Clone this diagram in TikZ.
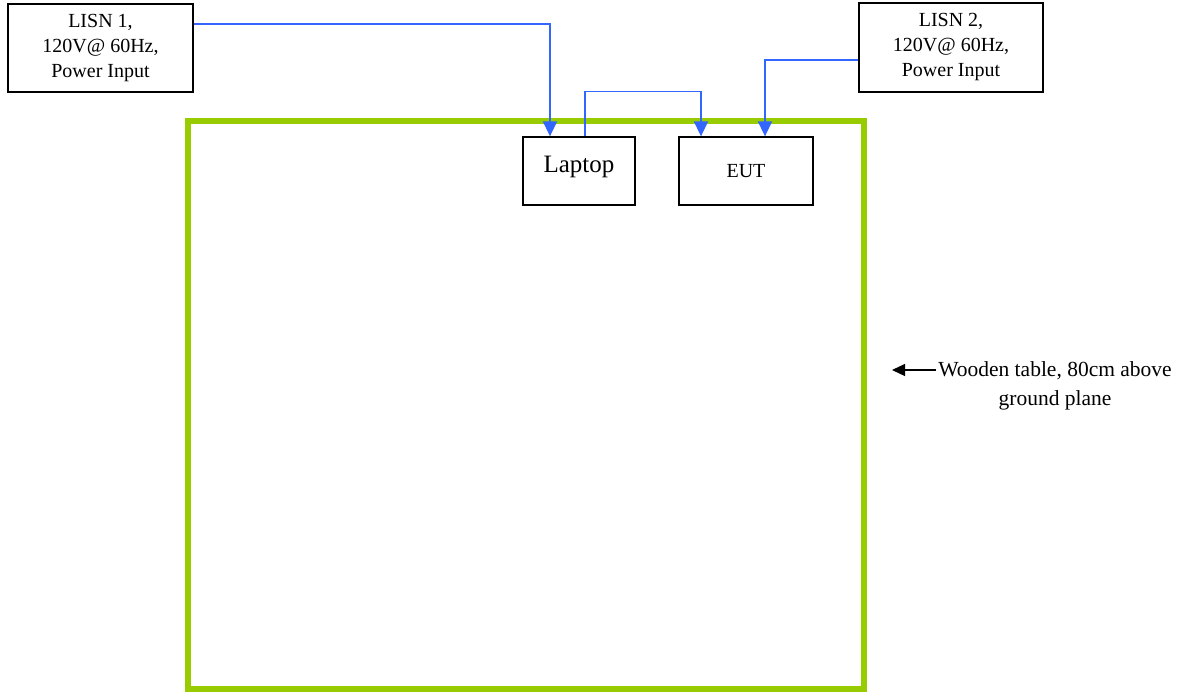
\documentclass[tikz,border=0pt]{standalone}
\usepackage{fontspec}
\setmainfont{Liberation Serif}
\usetikzlibrary{arrows.meta,positioning}
\definecolor{tablegreen}{RGB}{153,204,0}
\definecolor{cableblue}{RGB}{51,102,255}
\tikzset{
  base/.style={font=\fontsize{20}{25}\selectfont, align=center, inner sep=0pt, text=black},
  box/.style={base, rectangle, draw=black, line width=1.3pt},
  table/.style={rectangle, draw=tablegreen, line width=6pt},
  cable/.style={draw=cableblue, line width=1.6pt, -{Triangle[length=15pt,width=14pt]}},
  pointer/.style={draw=black, line width=1.3pt, -{Triangle[length=13pt,width=12pt]}},
  note/.style={base, inner sep=2pt, font=\fontsize{21.5}{29}\selectfont},
}
\begin{document}
\begin{tikzpicture}[x=1pt,y=-1pt]
  \useasboundingbox (0,0) rectangle (1185,698);
  \node[table,minimum width=676pt,minimum height=568pt] (tbl) at (526,405) {};
  \node[box,minimum width=185pt,minimum height=88pt] (lisn1) at (100.5,48) {LISN 1,\\120V@ 60Hz,\\Power Input};
  \node[box,minimum width=184pt,minimum height=89pt] (lisn2) at (951,47.5) {LISN 2,\\120V@ 60Hz,\\Power Input};
  \node[box,minimum width=112pt,minimum height=68pt,text depth=14pt,font=\fontsize{25}{30}\selectfont] (laptop) at (579,171) {Laptop};
  \node[box,minimum width=134pt,minimum height=68pt] (eut) at (746,171) {EUT};
  % power and data cables
  \draw[cable] ([yshift=24pt]lisn1.east) -| ([xshift=-29pt]laptop.north);
  \draw[cable] ([xshift=6pt]laptop.north) -- ++(0,-45) -| ([xshift=-45pt]eut.north);
  \draw[cable] ([yshift=-12.5pt]lisn2.west) -| ([xshift=19pt]eut.north);
  % table note
  \node[note] (tblnote) at (1055,386) {Wooden table, 80cm above\\ground plane};
  \coordinate (tip) at (892,370);
  \draw[pointer] (tblnote.west |- tip) -- (tip);
\end{tikzpicture}
\end{document}
